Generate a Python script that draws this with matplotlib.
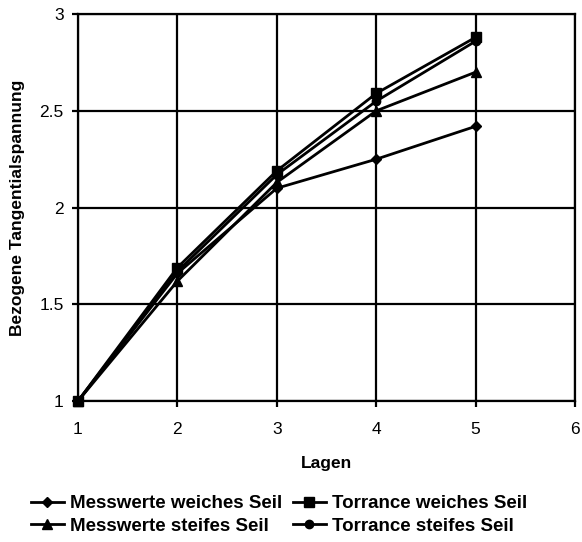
import matplotlib
matplotlib.use("Agg")
import matplotlib.pyplot as plt

plt.rcParams['font.family'] = ['Liberation Sans', 'DejaVu Sans']

lagen = [1, 2, 3, 4, 5]
mess_weich = [1.0, 1.66, 2.10, 2.25, 2.42]
torr_weich = [1.0, 1.69, 2.19, 2.59, 2.88]
mess_steif = [1.0, 1.62, 2.13, 2.50, 2.70]
torr_steif = [1.0, 1.67, 2.17, 2.55, 2.86]
labels = ["Messwerte weiches Seil", "Torrance weiches Seil",
          "Messwerte steifes Seil", "Torrance steifes Seil"]
x_ticks = [1, 2, 3, 4, 5, 6]
y_ticks = [1, 1.5, 2, 2.5, 3]
y_ticklabels = ['1', '1.5', '2', '2.5', '3']

fig = plt.figure(figsize=(5.82, 5.42), dpi=100)
ax = fig.add_axes([0.134, 0.260, 0.854, 0.714])

series = [(mess_weich, 'D', 5), (torr_weich, 's', 7), (mess_steif, '^', 7), (torr_steif, 'o', 6)]
handles = []
for (vals, m, ms), lab in zip(series, labels):
    h, = ax.plot(lagen, vals, color='black', lw=2, marker=m, markersize=ms, label=lab, zorder=3,
                 clip_on=False)
    handles.append(h)

ax.set_xlim(1, 6)
ax.set_ylim(1, 3)
ax.set_xticks(x_ticks)
ax.set_yticks(y_ticks)
ax.set_yticklabels(y_ticklabels)
ax.grid(True, color='black', lw=1.6)
for s in ax.spines.values():
    s.set_linewidth(1.6)
ax.tick_params(direction='out', length=4.3, width=1.6, labelsize=12.5)
ax.tick_params(axis='x', pad=10.5)
ax.tick_params(axis='y', pad=6)
ax.set_xlabel('Lagen', fontweight='bold', fontsize=12.5, labelpad=14)
ax.set_ylabel('Bezogene Tangentialspannung', fontweight='bold', fontsize=12.5, labelpad=10)

# row-wise order for 2-column legend
order = [0, 2, 1, 3]
fig.legend([handles[i] for i in order], [labels[i] for i in order],
           loc='upper left', bbox_to_anchor=(31 / 582, 1 - 495 / 542), ncol=2,
           frameon=False, prop={'weight': 'bold', 'size': 13.5}, handlelength=1.75,
           handletextpad=0.35, columnspacing=0.55, labelspacing=0.3, borderpad=0,
           borderaxespad=0)

fig.savefig('out.png', dpi=100)
